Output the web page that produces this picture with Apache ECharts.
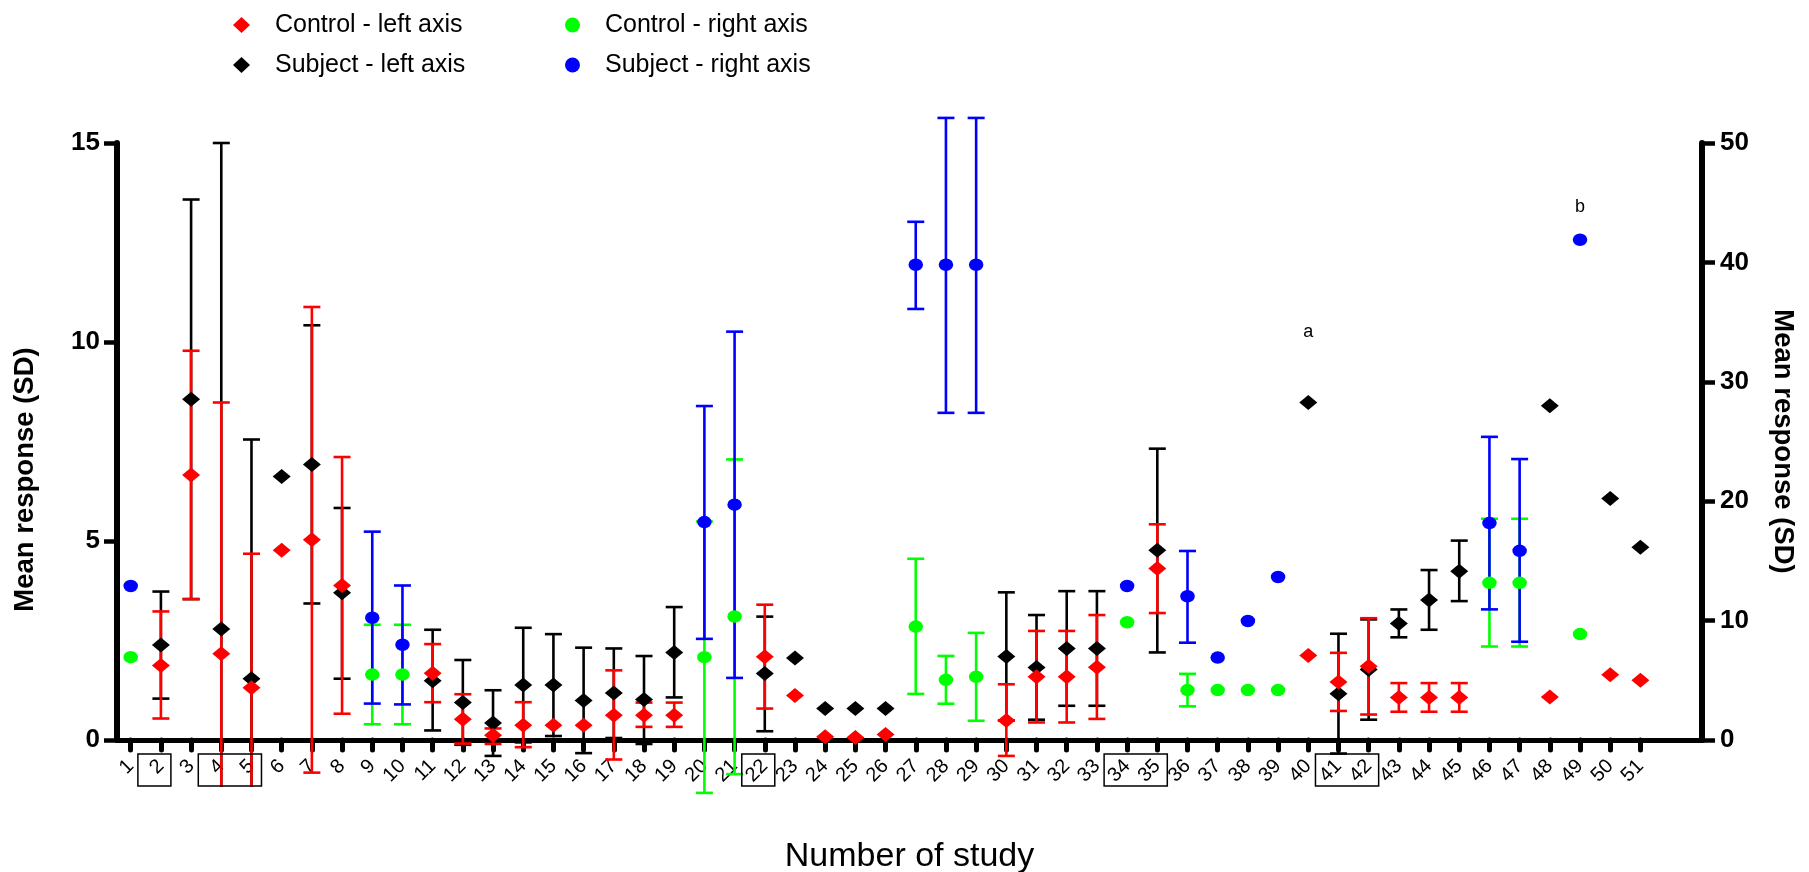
<!DOCTYPE html>
<html><head><meta charset="utf-8">
<script src="https://cdn.jsdelivr.net/npm/echarts@6/dist/echarts.min.js"></script>
<style>html,body{margin:0;padding:0;background:#fff}#c{width:1809px;height:872px}</style>
</head><body><div id="c"></div>
<script>
// tick labels of the x axis (study numbers)
const studyLabels = [1,2,3,4,5,6,7,8,9,10,11,12,13,14,15,16,17,18,19,20,21,22,23,24,25,26,27,28,29,30,31,32,33,34,35,36,37,38,39,40,41,42,43,44,45,46,47,48,49,50,51];
const leftTicks = [0,5,10,15];
const rightTicks = [0,10,20,30,40,50];

// [study, mean, lower, upper]  (left axis units)
const controlLeft = [
  [2,1.87,0.54,3.23],[3,6.66,3.54,9.78],[4,2.17,-4.14,8.48],[5,1.31,-2.06,4.68],[6,4.77,null,null],
  [7,5.03,-0.82,10.88],[8,3.88,0.66,7.11],[11,1.68,0.95,2.41],[12,0.52,-0.09,1.15],[13,0.12,-0.10,0.29],
  [14,0.37,-0.18,0.95],[15,0.37,null,null],[16,0.37,null,null],[17,0.62,-0.49,1.75],[18,0.62,0.33,0.94],
  [19,0.62,0.33,0.94],[22,2.09,0.79,3.40],[23,1.12,null,null],[24,0.08,null,null],[25,0.06,null,null],
  [26,0.14,null,null],[30,0.49,-0.40,1.40],[31,1.59,0.44,2.74],[32,1.59,0.44,2.74],[33,1.83,0.53,3.14],
  [35,4.31,3.19,5.42],[40,2.12,null,null],[41,1.46,0.73,2.19],[42,1.85,0.64,3.06],[43,1.07,0.71,1.43],
  [44,1.07,0.71,1.43],[45,1.07,0.71,1.43],[48,1.08,null,null],[50,1.64,null,null],[51,1.50,null,null]
];
const subjectLeft = [
  [2,2.39,1.04,3.73],[3,8.56,3.54,13.58],[4,2.79,-9.40,15.00],[5,1.54,-4.47,7.55],[6,6.62,null,null],
  [7,6.92,3.43,10.42],[8,3.70,1.54,5.83],[11,1.49,0.24,2.77],[12,0.94,-0.12,2.01],[13,0.43,-0.40,1.25],
  [14,1.38,-0.06,2.82],[15,1.38,0.10,2.66],[16,0.99,-0.33,2.32],[17,1.18,0.05,2.30],[18,1.02,-0.10,2.11],
  [19,2.20,1.07,3.34],[22,1.67,0.22,3.10],[23,2.06,null,null],[24,0.79,null,null],[25,0.79,null,null],
  [26,0.79,null,null],[30,2.10,0.49,3.71],[31,1.82,0.51,3.14],[32,2.30,0.86,3.74],[33,2.30,0.86,3.74],
  [35,4.77,2.20,7.32],[40,8.48,null,null],[41,1.16,-0.34,2.67],[42,1.77,0.51,3.03],[43,2.93,2.58,3.28],
  [44,3.52,2.77,4.27],[45,4.24,3.49,5.01],[48,8.40,null,null],[50,6.07,null,null],[51,4.84,null,null]
];
// [study, mean, lower, upper]  (right axis units)
const controlRight = [
  [1,6.94,null,null],[9,5.48,1.32,9.65],[10,5.48,1.32,9.65],[20,6.94,-4.43,18.30],[21,10.34,-2.86,23.50],
  [27,9.50,3.86,15.18],[28,5.04,3.04,7.04],[29,5.29,1.61,8.97],[34,9.86,null,null],[36,4.18,2.82,5.54],
  [37,4.18,null,null],[38,4.18,null,null],[39,4.18,null,null],[46,13.16,7.83,18.53],[47,13.16,7.83,18.53],
  [49,8.87,null,null]
];
const subjectRight = [
  [1,12.90,null,null],[9,10.24,3.05,17.45],[10,7.98,2.98,12.94],[20,18.25,8.47,27.97],[21,19.71,5.20,34.20],
  [27,39.80,36.10,43.40],[28,39.80,27.40,52.10],[29,39.80,27.40,52.10],[34,12.90,null,null],[36,12.04,8.15,15.83],
  [37,6.90,null,null],[38,9.97,null,null],[39,13.65,null,null],[46,18.17,10.94,25.39],[47,15.84,8.23,23.53],
  [49,41.90,null,null]
];
// boxed study labels [first, last]
const boxedGroups = [[2,2],[4,5],[22,22],[34,35],[41,42]];
// footnote letters [study, right-axis height, text]
const notes = [[40,34.2,'a'],[49,44.6,'b']];

const FONT = "'Liberation Sans', Arial, sans-serif";
const RED = '#ff0000', BLACK = '#000000', GREEN = '#00ff00', BLUE = '#0000ff';

function points(list){ return list.map(d => [d[0], d[1]]); }
function bars(list){ return list.filter(d => d[2] !== null).map(d => [d[0], d[2], d[3]]); }

function errorSeries(list, color, yAxisIndex, clipMin){
  return {
    type: 'custom', yAxisIndex: yAxisIndex, z: 2, clip: false, silent: true,
    data: bars(list), encode: {x: 0, y: [1, 2]},
    renderItem: function(params, api){
      const x = api.value(0), lo = api.value(1), hi = api.value(2);
      const clipped = lo < clipMin;
      const pHi = api.coord([x, hi]);
      const pLo = api.coord([x, clipped ? clipMin : lo]);
      const half = 8.5, st = {stroke: color, lineWidth: 2.6};
      const ch = [
        {type:'line', shape:{x1:pHi[0], y1:pHi[1], x2:pLo[0], y2:pLo[1]}, style: st},
        {type:'line', shape:{x1:pHi[0]-half, y1:pHi[1], x2:pHi[0]+half, y2:pHi[1]}, style: st}
      ];
      if (!clipped) ch.push({type:'line', shape:{x1:pLo[0]-half, y1:pLo[1], x2:pLo[0]+half, y2:pLo[1]}, style: st});
      return {type:'group', children: ch};
    }
  };
}
function markerSeries(name, list, color, yAxisIndex, symbol, size){
  return {
    name: name, type: 'scatter', yAxisIndex: yAxisIndex, z: 3,
    symbol: symbol, symbolSize: size, data: points(list),
    itemStyle: {color: color, opacity: 1}
  };
}

const chart = echarts.init(document.getElementById('c'), null, {renderer: 'canvas'});
const legendText = {fontFamily: FONT, fontSize: 25, color: '#000', lineHeight: 30, padding: [0,0,0,20]};
const option = {
  animation: false,
  backgroundColor: '#ffffff',
  grid: {left: 117, right: 107, top: 143, bottom: 132, containLabel: false, outerBoundsMode: 'none'},
  legend: [
    {orient: 'vertical', left: 228, top: 5, itemWidth: 17, itemHeight: 16, itemGap: 10,
     symbolKeepAspect: false, selectedMode: false, textStyle: legendText,
     data: [{name:'Control - left axis', icon:'diamond'}, {name:'Subject - left axis', icon:'diamond'}]},
    {orient: 'vertical', left: 560, top: 5, itemWidth: 15, itemHeight: 16, itemGap: 10,
     symbolKeepAspect: true, selectedMode: false, textStyle: legendText,
     data: [{name:'Control - right axis', icon:'circle'}, {name:'Subject - right axis', icon:'circle'}]}
  ],
  xAxis: {
    type: 'value', min: 0.546, max: 53.04,
    name: 'Number of study', nameLocation: 'middle', nameGap: 100,
    nameTextStyle: {fontFamily: FONT, fontSize: 34, color: '#000'},
    axisLine: {show: true, onZero: false, lineStyle: {color: '#000', width: 5}},
    axisTick: {show: true, length: 10, customValues: studyLabels, lineStyle: {color: '#000', width: 5, cap: 'round'}},
    axisLabel: {show: true, customValues: studyLabels, rotate: 45, margin: 23,
      fontFamily: FONT, fontSize: 20, color: '#000', formatter: v => String(v)},
    splitLine: {show: false}
  },
  yAxis: [
    {type: 'value', min: 0, max: 15, interval: 5, position: 'left',
     name: 'Mean response (SD)', nameLocation: 'middle', nameRotate: 90, nameGap: 78,
     nameTextStyle: {fontFamily: FONT, fontSize: 27.5, fontWeight: 'bold', color: '#000', padding: [0, 76, 0, 0]},
     axisLine: {show: true, lineStyle: {color: '#000', width: 6}},
     axisTick: {show: true, length: 13, lineStyle: {color: '#000', width: 4.5}},
     axisLabel: {margin: 17, fontFamily: FONT, fontSize: 26, fontWeight: 'bold', color: '#000',
       customValues: leftTicks},
     splitLine: {show: false}},
    {type: 'value', min: 0, max: 50, interval: 10, position: 'right',
     name: 'Mean response (SD)', nameLocation: 'middle', nameRotate: -90, nameGap: 67,
     nameTextStyle: {fontFamily: FONT, fontSize: 27.5, fontWeight: 'bold', color: '#000'},
     axisLine: {show: true, lineStyle: {color: '#000', width: 6}},
     axisTick: {show: true, length: 13, lineStyle: {color: '#000', width: 4.5}},
     axisLabel: {margin: 18, fontFamily: FONT, fontSize: 26, fontWeight: 'bold', color: '#000',
       customValues: rightTicks},
     splitLine: {show: false}}
  ],
  series: [
    errorSeries(subjectLeft, BLACK, 0, -1.17),
    errorSeries(controlLeft, RED, 0, -1.17),
    errorSeries(controlRight, GREEN, 1, -4.6),
    errorSeries(subjectRight, BLUE, 1, -4.6),
    markerSeries('Subject - left axis', subjectLeft, BLACK, 0, 'diamond', [18, 15]),
    markerSeries('Control - left axis', controlLeft, RED, 0, 'diamond', [18, 15]),
    markerSeries('Control - right axis', controlRight, GREEN, 1, 'circle', [14.5, 12.5]),
    markerSeries('Subject - right axis', subjectRight, BLUE, 1, 'circle', [14.5, 12.5]),
    {
      type: 'custom', z: 4, clip: false, silent: true,
      data: boxedGroups.map(g => [g[0], g[1], 0]), encode: {x: [0, 1], y: 2},
      renderItem: function(params, api){
        const a = api.coord([api.value(0), 0]);
        const b = api.coord([api.value(1), 0]);
        return {type: 'rect', shape: {x: a[0] - 23, y: a[1] + 14, width: (b[0] + 10) - (a[0] - 23), height: 32},
          style: {fill: null, stroke: '#000', lineWidth: 1.5}};
      }
    },
    {
      type: 'custom', yAxisIndex: 1, z: 4, clip: false, silent: true,
      data: notes.map(n => [n[0], n[1], n[2]]), encode: {x: 0, y: 1},
      renderItem: function(params, api){
        const p = api.coord([api.value(0), api.value(1)]);
        return {type: 'text', x: p[0], y: p[1],
          style: {text: notes[params.dataIndex][2], fontFamily: FONT, fontSize: 18, fill: '#000',
            align: 'center', verticalAlign: 'middle'}};
      }
    }
  ]
};
chart.setOption(option);
</script></body></html>
